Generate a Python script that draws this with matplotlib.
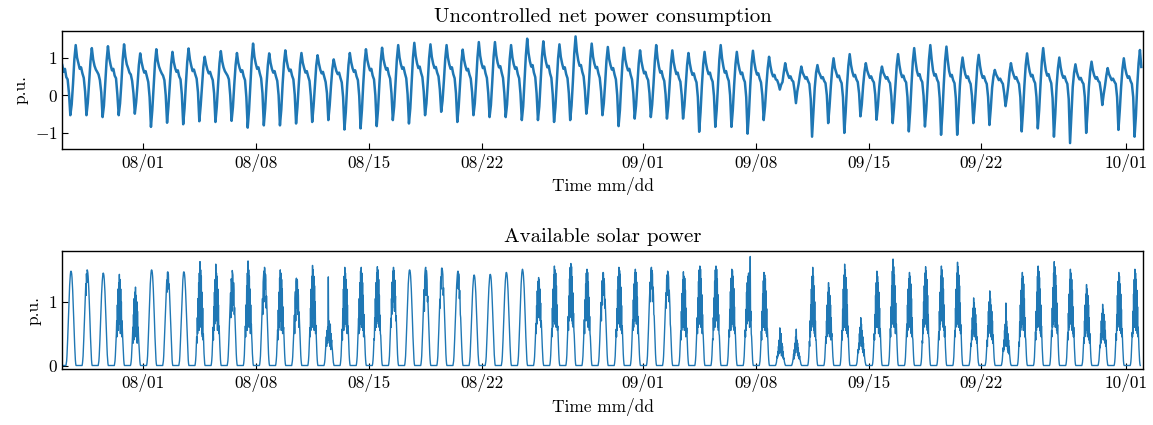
import numpy as np
import pandas as pd
import matplotlib
matplotlib.use("Agg")
import matplotlib.pyplot as plt
import matplotlib.dates as mdates

plt.rcParams["font.family"] = "serif"
plt.rcParams["font.serif"] = ["cmr10"]
plt.rcParams["mathtext.fontset"] = "cm"
plt.rcParams["axes.formatter.use_mathtext"] = True

start = pd.Timestamp("2019-07-27")
n_days = 67

# net consumption, one row per day, values at 00,02,...,22 h
net_rows = [
    [0.80, 0.62, 0.70, 0.48, 0.42, 0.05, -0.53, -0.25, 0.30, 0.95, 1.33, 1.00],
    [0.85, 0.70, 0.74, 0.58, 0.46, 0.10, -0.53, -0.20, 0.35, 0.90, 1.25, 0.95],
    [0.78, 0.68, 0.62, 0.55, 0.40, 0.08, -0.58, -0.28, 0.30, 0.92, 1.30, 0.98],
    [0.80, 0.66, 0.70, 0.52, 0.45, 0.02, -0.53, -0.22, 0.32, 0.96, 1.35, 1.02],
    [0.82, 0.72, 0.60, 0.55, 0.38, 0.05, -0.49, -0.18, 0.28, 0.80, 1.11, 0.88],
    [0.72, 0.60, 0.64, 0.50, 0.35, -0.05, -0.84, -0.40, 0.25, 0.85, 1.22, 0.92],
    [0.76, 0.66, 0.58, 0.52, 0.40, 0.00, -0.73, -0.30, 0.28, 0.82, 1.15, 0.88],
    [0.72, 0.62, 0.66, 0.50, 0.42, 0.02, -0.77, -0.35, 0.30, 0.88, 1.24, 0.95],
    [0.78, 0.64, 0.68, 0.55, 0.44, 0.08, -0.69, -0.28, 0.25, 0.75, 1.02, 0.82],
    [0.68, 0.58, 0.62, 0.50, 0.40, 0.05, -0.71, -0.30, 0.30, 0.85, 1.17, 0.90],
    [0.74, 0.64, 0.58, 0.52, 0.42, 0.00, -0.68, -0.32, 0.28, 0.80, 1.12, 0.86],
    [0.72, 0.62, 0.66, 0.50, 0.40, -0.05, -0.86, -0.40, 0.30, 0.95, 1.37, 1.02],
    [0.84, 0.70, 0.74, 0.58, 0.45, 0.05, -0.80, -0.35, 0.28, 0.80, 1.11, 0.86],
    [0.70, 0.60, 0.64, 0.50, 0.38, 0.00, -0.80, -0.38, 0.30, 0.85, 1.19, 0.92],
    [0.74, 0.64, 0.68, 0.52, 0.42, 0.02, -0.75, -0.32, 0.28, 0.82, 1.12, 0.86],
    [0.72, 0.60, 0.64, 0.50, 0.38, -0.02, -0.71, -0.30, 0.25, 0.78, 1.06, 0.84],
    [0.68, 0.58, 0.62, 0.48, 0.35, 0.05, -0.66, -0.28, 0.25, 0.70, 0.95, 0.78],
    [0.64, 0.56, 0.60, 0.46, 0.34, -0.05, -0.91, -0.45, 0.25, 0.80, 1.12, 0.88],
    [0.72, 0.62, 0.66, 0.50, 0.40, -0.02, -0.88, -0.40, 0.30, 0.88, 1.22, 0.94],
    [0.78, 0.66, 0.70, 0.52, 0.42, 0.00, -0.82, -0.38, 0.30, 0.90, 1.26, 0.96],
    [0.80, 0.68, 0.72, 0.55, 0.44, 0.05, -0.66, -0.30, 0.32, 0.95, 1.33, 1.00],
    [0.82, 0.70, 0.74, 0.58, 0.45, 0.02, -0.75, -0.35, 0.32, 1.00, 1.39, 1.05],
    [0.85, 0.72, 0.76, 0.60, 0.48, 0.10, -0.53, -0.22, 0.35, 0.98, 1.35, 1.02],
    [0.84, 0.72, 0.75, 0.60, 0.50, 0.15, -0.44, -0.15, 0.38, 0.96, 1.33, 1.00],
    [0.82, 0.70, 0.74, 0.56, 0.45, 0.05, -0.71, -0.32, 0.30, 0.88, 1.21, 0.94],
    [0.78, 0.66, 0.70, 0.55, 0.44, 0.08, -0.53, -0.22, 0.35, 1.00, 1.41, 1.05],
    [0.85, 0.72, 0.76, 0.58, 0.46, 0.06, -0.58, -0.26, 0.35, 1.02, 1.41, 1.06],
    [0.86, 0.74, 0.77, 0.60, 0.46, 0.05, -0.58, -0.25, 0.34, 0.96, 1.33, 1.00],
    [0.82, 0.70, 0.74, 0.56, 0.45, 0.04, -0.66, -0.30, 0.35, 1.05, 1.50, 1.12],
    [0.90, 0.76, 0.80, 0.60, 0.48, 0.05, -0.66, -0.30, 0.34, 1.02, 1.43, 1.08],
    [0.88, 0.74, 0.78, 0.58, 0.46, 0.02, -0.71, -0.32, 0.32, 0.98, 1.35, 1.02],
    [0.84, 0.70, 0.74, 0.56, 0.45, 0.05, -0.66, -0.28, 0.36, 1.10, 1.56, 1.15],
    [0.92, 0.78, 0.80, 0.62, 0.50, 0.12, -0.49, -0.20, 0.34, 0.98, 1.37, 1.02],
    [0.84, 0.72, 0.75, 0.58, 0.46, 0.10, -0.53, -0.22, 0.32, 0.92, 1.28, 0.96],
    [0.80, 0.68, 0.72, 0.55, 0.42, 0.00, -0.82, -0.40, 0.30, 0.90, 1.26, 0.95],
    [0.78, 0.66, 0.70, 0.54, 0.42, 0.05, -0.62, -0.28, 0.30, 0.85, 1.19, 0.90],
    [0.72, 0.58, 0.62, 0.48, 0.40, 0.05, -0.58, -0.25, 0.30, 0.92, 1.33, 0.98],
    [0.76, 0.60, 0.64, 0.48, 0.38, 0.02, -0.62, -0.28, 0.28, 0.85, 1.19, 0.88],
    [0.70, 0.56, 0.60, 0.45, 0.36, 0.00, -0.62, -0.28, 0.26, 0.80, 1.12, 0.85],
    [0.66, 0.54, 0.58, 0.44, 0.34, -0.05, -0.97, -0.45, 0.25, 0.82, 1.15, 0.86],
    [0.68, 0.56, 0.60, 0.45, 0.36, -0.02, -0.84, -0.40, 0.28, 0.95, 1.33, 0.98],
    [0.76, 0.60, 0.64, 0.48, 0.38, 0.00, -0.84, -0.40, 0.26, 0.82, 1.15, 0.86],
    [0.68, 0.56, 0.60, 0.44, 0.35, -0.05, -1.02, -0.50, 0.25, 0.85, 1.18, 0.88],
    [0.68, 0.55, 0.58, 0.44, 0.34, 0.00, -0.66, -0.30, 0.25, 0.72, 1.02, 0.78],
    [0.60, 0.50, 0.54, 0.42, 0.40, 0.30, 0.15, 0.28, 0.35, 0.62, 0.85, 0.66],
    [0.55, 0.46, 0.50, 0.40, 0.36, 0.12, -0.21, 0.10, 0.30, 0.55, 0.76, 0.60],
    [0.52, 0.44, 0.48, 0.38, 0.30, -0.10, -1.10, -0.45, 0.20, 0.60, 0.80, 0.62],
    [0.54, 0.45, 0.48, 0.38, 0.32, 0.00, -0.74, -0.30, 0.25, 0.70, 0.98, 0.72],
    [0.60, 0.48, 0.52, 0.40, 0.32, -0.05, -1.00, -0.45, 0.25, 0.78, 1.09, 0.80],
    [0.62, 0.50, 0.54, 0.42, 0.35, 0.05, -0.56, -0.25, 0.25, 0.62, 0.85, 0.66],
    [0.55, 0.46, 0.50, 0.40, 0.34, 0.02, -0.65, -0.28, 0.22, 0.56, 0.76, 0.60],
    [0.52, 0.44, 0.48, 0.38, 0.32, -0.02, -0.74, -0.32, 0.25, 0.78, 1.09, 0.80],
    [0.60, 0.48, 0.52, 0.40, 0.34, -0.05, -0.96, -0.42, 0.28, 0.90, 1.25, 0.90],
    [0.65, 0.52, 0.56, 0.42, 0.35, -0.02, -0.83, -0.38, 0.28, 0.95, 1.33, 0.95],
    [0.66, 0.52, 0.56, 0.42, 0.34, -0.08, -1.05, -0.48, 0.28, 0.92, 1.29, 0.92],
    [0.64, 0.50, 0.54, 0.40, 0.32, -0.08, -1.05, -0.48, 0.25, 0.72, 1.00, 0.74],
    [0.56, 0.46, 0.50, 0.38, 0.30, -0.02, -0.74, -0.32, 0.25, 0.78, 1.07, 0.78],
    [0.58, 0.46, 0.50, 0.38, 0.30, -0.05, -0.79, -0.35, 0.20, 0.50, 0.67, 0.55],
    [0.48, 0.40, 0.44, 0.36, 0.30, 0.05, -0.29, -0.05, 0.25, 0.62, 0.85, 0.66],
    [0.54, 0.44, 0.48, 0.38, 0.30, -0.05, -0.96, -0.42, 0.25, 0.80, 1.11, 0.82],
    [0.62, 0.50, 0.54, 0.40, 0.32, -0.05, -0.88, -0.40, 0.28, 0.90, 1.25, 0.90],
    [0.65, 0.52, 0.56, 0.42, 0.32, -0.08, -1.10, -0.50, 0.25, 0.72, 1.00, 0.74],
    [0.56, 0.46, 0.50, 0.38, 0.30, -0.10, -1.27, -0.55, 0.22, 0.60, 0.82, 0.62],
    [0.50, 0.42, 0.46, 0.36, 0.30, -0.05, -1.00, -0.45, 0.22, 0.65, 0.89, 0.66],
    [0.52, 0.44, 0.48, 0.38, 0.34, 0.10, -0.26, 0.02, 0.25, 0.52, 0.72, 0.56],
    [0.48, 0.40, 0.44, 0.36, 0.30, -0.05, -0.92, -0.40, 0.22, 0.70, 0.98, 0.72],
    [0.56, 0.46, 0.50, 0.38, 0.30, -0.05, -1.10, -0.55, 0.25, 0.85, 1.20, 0.75],
]

# available solar power, one row per day, half-hourly from 06:00 to 20:00 (zero at night)
solar_rows = [
    [0.03, 0.07, 0.15, 0.27, 0.40, 0.55, 0.71, 0.86, 1.01, 1.14, 1.26, 1.35, 1.42, 1.47, 1.48, 1.47, 1.44, 1.38, 1.29, 1.18, 1.05, 0.90, 0.75, 0.59, 0.44, 0.31, 0.18, 0.09, 0.03],
    [0.03, 0.08, 0.15, 0.27, 0.41, 0.56, 0.72, 0.87, 1.02, 1.16, 1.28, 1.10, 1.44, 1.30, 1.50, 1.49, 1.46, 1.40, 1.31, 1.20, 1.07, 0.92, 0.77, 0.60, 0.45, 0.32, 0.18, 0.09, 0.03],
    [0.03, 0.07, 0.15, 0.26, 0.39, 0.54, 0.70, 0.84, 0.99, 1.12, 1.23, 1.32, 1.39, 1.44, 1.45, 1.44, 1.41, 1.35, 1.26, 1.16, 1.03, 0.88, 0.74, 0.58, 0.44, 0.30, 0.17, 0.09, 0.03],
    [0.03, 0.07, 0.15, 0.26, 0.39, 0.50, 0.70, 0.45, 0.95, 0.60, 1.20, 0.55, 1.30, 0.75, 1.43, 0.65, 1.35, 0.50, 1.20, 0.60, 1.00, 0.45, 0.70, 0.55, 0.42, 0.30, 0.17, 0.09, 0.03],
    [0.02, 0.06, 0.12, 0.22, 0.33, 0.45, 0.60, 0.35, 0.80, 0.40, 1.05, 0.50, 1.15, 0.60, 1.23, 0.45, 1.10, 0.55, 1.00, 0.35, 0.85, 0.50, 0.60, 0.45, 0.35, 0.25, 0.15, 0.07, 0.02],
    [0.03, 0.08, 0.15, 0.27, 0.41, 0.56, 0.72, 0.87, 1.02, 1.16, 1.28, 1.37, 1.44, 1.49, 1.50, 1.49, 1.46, 1.40, 1.31, 1.20, 1.07, 0.92, 0.77, 0.60, 0.45, 0.32, 0.18, 0.09, 0.03],
    [0.03, 0.07, 0.15, 0.26, 0.40, 0.54, 0.71, 0.85, 1.00, 1.13, 1.25, 1.34, 1.15, 1.46, 1.47, 1.46, 1.43, 1.20, 1.28, 1.18, 1.04, 0.90, 0.75, 0.59, 0.44, 0.31, 0.18, 0.09, 0.03],
    [0.03, 0.07, 0.15, 0.26, 0.40, 0.54, 0.71, 0.85, 1.00, 1.13, 1.25, 1.34, 1.41, 1.46, 1.47, 1.46, 1.43, 1.37, 1.28, 1.18, 1.04, 0.90, 0.75, 0.59, 0.44, 0.31, 0.18, 0.09, 0.03],
    [0.03, 0.08, 0.16, 0.30, 0.45, 0.35, 0.75, 0.50, 1.05, 0.60, 1.30, 0.55, 1.45, 0.70, 1.63, 0.80, 1.50, 0.60, 1.40, 0.50, 1.15, 0.45, 0.90, 0.40, 0.50, 0.33, 0.19, 0.10, 0.03],
    [0.03, 0.08, 0.16, 0.29, 0.44, 0.60, 0.40, 0.92, 0.55, 1.15, 0.65, 1.35, 0.75, 1.59, 0.70, 1.45, 0.85, 1.40, 0.55, 1.20, 0.60, 0.95, 0.50, 0.62, 0.45, 0.32, 0.19, 0.09, 0.03],
    [0.03, 0.07, 0.15, 0.27, 0.40, 0.55, 0.71, 0.86, 1.00, 1.14, 0.75, 1.36, 1.30, 0.85, 1.49, 1.46, 1.42, 0.95, 1.30, 1.18, 0.80, 0.91, 0.76, 0.59, 0.44, 0.31, 0.18, 0.09, 0.03],
    [0.03, 0.08, 0.16, 0.30, 0.45, 0.62, 0.45, 0.95, 0.60, 1.25, 0.55, 1.45, 0.80, 1.64, 0.70, 1.50, 0.60, 1.40, 0.75, 1.20, 0.50, 0.95, 0.60, 0.65, 0.45, 0.34, 0.19, 0.10, 0.03],
    [0.03, 0.08, 0.15, 0.28, 0.42, 0.57, 0.74, 0.89, 1.05, 0.80, 1.31, 1.40, 1.48, 1.00, 1.54, 1.52, 1.20, 1.43, 1.34, 0.90, 1.09, 0.94, 0.78, 0.62, 0.46, 0.32, 0.18, 0.09, 0.03],
    [0.03, 0.08, 0.15, 0.27, 0.41, 0.56, 0.40, 0.87, 0.55, 1.15, 0.60, 1.37, 0.70, 1.50, 0.80, 1.45, 0.55, 1.35, 0.65, 1.20, 0.50, 0.92, 0.55, 0.60, 0.45, 0.32, 0.18, 0.09, 0.03],
    [0.03, 0.07, 0.14, 0.25, 0.37, 0.50, 0.66, 0.79, 0.50, 1.05, 1.16, 0.70, 1.32, 1.37, 0.90, 1.35, 1.33, 0.80, 1.19, 1.10, 0.60, 0.84, 0.70, 0.55, 0.41, 0.29, 0.16, 0.08, 0.03],
    [0.03, 0.08, 0.16, 0.28, 0.43, 0.59, 0.45, 0.90, 0.55, 1.20, 0.70, 1.40, 0.60, 1.57, 0.75, 1.50, 0.90, 1.40, 0.55, 1.25, 0.60, 1.00, 0.50, 0.63, 0.47, 0.33, 0.19, 0.09, 0.03],
    [0.02, 0.05, 0.10, 0.18, 0.25, 0.35, 0.45, 0.30, 0.55, 0.35, 0.60, 0.40, 1.39, 0.45, 0.70, 0.35, 0.55, 0.30, 0.65, 0.25, 0.50, 0.35, 0.40, 0.30, 0.25, 0.18, 0.10, 0.05, 0.02],
    [0.03, 0.08, 0.15, 0.28, 0.42, 0.57, 0.40, 0.89, 0.60, 1.20, 0.55, 1.40, 0.70, 1.54, 0.65, 1.45, 0.80, 1.35, 0.60, 1.20, 0.50, 0.95, 0.55, 0.62, 0.46, 0.32, 0.18, 0.09, 0.03],
    [0.03, 0.08, 0.15, 0.28, 0.42, 0.57, 0.74, 0.50, 1.05, 0.55, 1.30, 0.65, 1.48, 0.75, 1.54, 0.60, 1.45, 0.70, 1.30, 0.55, 1.10, 0.45, 0.80, 0.50, 0.46, 0.32, 0.18, 0.09, 0.03],
    [0.03, 0.08, 0.16, 0.28, 0.42, 0.40, 0.75, 0.55, 1.05, 0.65, 1.30, 0.60, 1.45, 0.85, 1.55, 0.70, 1.50, 0.65, 1.35, 0.60, 1.10, 0.55, 0.79, 0.50, 0.47, 0.33, 0.19, 0.09, 0.03],
    [0.03, 0.08, 0.15, 0.28, 0.42, 0.57, 0.74, 0.60, 1.05, 0.80, 1.31, 0.90, 1.48, 1.00, 1.54, 1.20, 1.49, 0.85, 1.34, 0.95, 1.09, 0.70, 0.78, 0.62, 0.46, 0.32, 0.18, 0.09, 0.03],
    [0.03, 0.08, 0.15, 0.27, 0.41, 0.56, 0.72, 0.87, 1.02, 1.16, 1.28, 1.37, 1.44, 1.49, 1.50, 1.49, 1.46, 1.40, 1.31, 1.20, 1.07, 0.92, 0.77, 0.60, 0.45, 0.32, 0.18, 0.09, 0.03],
    [0.03, 0.08, 0.15, 0.28, 0.42, 0.57, 0.74, 0.89, 1.05, 1.19, 0.85, 1.40, 1.48, 1.53, 1.54, 1.10, 1.49, 1.43, 1.34, 1.00, 1.09, 0.94, 0.78, 0.62, 0.46, 0.32, 0.18, 0.09, 0.03],
    [0.03, 0.08, 0.15, 0.28, 0.41, 0.57, 0.73, 0.89, 1.04, 0.90, 1.30, 1.39, 1.20, 1.52, 1.53, 1.52, 1.48, 1.42, 1.10, 1.22, 1.09, 0.94, 0.78, 0.61, 0.46, 0.32, 0.18, 0.09, 0.03],
    [0.03, 0.07, 0.15, 0.27, 0.40, 0.55, 0.71, 0.86, 1.01, 1.14, 1.26, 1.35, 1.42, 1.47, 1.48, 1.20, 1.44, 1.38, 1.05, 1.18, 1.05, 0.80, 0.75, 0.59, 0.44, 0.31, 0.18, 0.09, 0.03],
    [0.03, 0.07, 0.14, 0.26, 0.38, 0.53, 0.68, 0.82, 0.97, 1.09, 1.21, 1.29, 1.36, 1.41, 1.42, 1.41, 1.38, 1.32, 1.24, 1.14, 1.01, 0.87, 0.72, 0.57, 0.43, 0.30, 0.17, 0.09, 0.03],
    [0.03, 0.07, 0.14, 0.26, 0.39, 0.53, 0.69, 0.83, 0.97, 1.10, 1.22, 1.30, 1.37, 1.42, 1.43, 1.42, 1.39, 1.33, 1.24, 1.14, 1.02, 0.87, 0.73, 0.57, 0.43, 0.30, 0.17, 0.09, 0.03],
    [0.03, 0.07, 0.15, 0.26, 0.39, 0.54, 0.70, 0.85, 0.99, 1.12, 1.24, 1.33, 1.40, 1.45, 1.46, 1.45, 1.42, 1.36, 1.27, 1.17, 1.04, 0.89, 0.74, 0.58, 0.44, 0.31, 0.18, 0.09, 0.03],
    [0.03, 0.08, 0.15, 0.27, 0.41, 0.56, 0.72, 0.88, 1.03, 1.16, 1.28, 1.37, 1.45, 1.49, 1.51, 1.49, 1.46, 1.40, 1.31, 1.21, 1.07, 0.92, 0.77, 0.60, 0.45, 0.32, 0.18, 0.09, 0.03],
    [0.03, 0.07, 0.14, 0.25, 0.37, 0.51, 0.66, 0.50, 0.94, 0.65, 1.17, 0.80, 1.32, 0.90, 1.38, 0.75, 1.34, 0.95, 1.20, 0.70, 0.98, 0.60, 0.70, 0.55, 0.41, 0.29, 0.17, 0.08, 0.03],
    [0.03, 0.08, 0.16, 0.28, 0.42, 0.58, 0.45, 0.90, 0.60, 1.20, 0.70, 1.42, 0.80, 1.56, 0.65, 1.50, 0.85, 1.45, 0.60, 1.25, 0.70, 0.95, 0.55, 0.62, 0.47, 0.33, 0.19, 0.09, 0.03],
    [0.03, 0.08, 0.16, 0.29, 0.43, 0.59, 0.77, 0.55, 1.09, 0.70, 1.36, 0.75, 1.54, 0.90, 1.60, 0.80, 1.55, 0.70, 1.39, 0.65, 1.14, 0.60, 0.82, 0.55, 0.48, 0.34, 0.19, 0.10, 0.03],
    [0.03, 0.08, 0.15, 0.27, 0.41, 0.56, 0.72, 0.50, 1.03, 0.75, 1.28, 0.70, 1.45, 0.85, 1.51, 0.95, 1.46, 0.60, 1.31, 0.80, 1.07, 0.55, 0.77, 0.50, 0.45, 0.32, 0.18, 0.09, 0.03],
    [0.03, 0.07, 0.15, 0.26, 0.39, 0.54, 0.70, 0.85, 0.99, 0.70, 1.24, 1.33, 0.95, 1.45, 1.46, 1.45, 1.10, 1.36, 1.27, 0.90, 1.04, 0.89, 0.74, 0.58, 0.44, 0.31, 0.18, 0.09, 0.03],
    [0.03, 0.08, 0.15, 0.28, 0.42, 0.57, 0.45, 0.89, 0.55, 1.19, 0.65, 1.40, 0.75, 1.54, 0.70, 1.49, 0.60, 1.43, 0.75, 1.23, 0.55, 0.94, 0.50, 0.62, 0.46, 0.32, 0.18, 0.09, 0.03],
    [0.03, 0.08, 0.15, 0.27, 0.41, 0.56, 0.72, 0.55, 1.03, 0.60, 1.28, 0.80, 1.45, 0.70, 1.51, 0.85, 1.46, 0.65, 1.31, 0.75, 1.07, 0.50, 0.77, 0.55, 0.45, 0.32, 0.18, 0.09, 0.03],
    [0.03, 0.08, 0.15, 0.28, 0.42, 0.57, 0.74, 0.89, 1.05, 1.19, 1.31, 1.00, 1.48, 1.53, 1.54, 1.20, 1.49, 1.43, 1.00, 1.23, 1.09, 0.80, 0.78, 0.62, 0.46, 0.32, 0.18, 0.09, 0.03],
    [0.03, 0.07, 0.15, 0.27, 0.40, 0.55, 0.71, 0.86, 1.01, 1.14, 0.90, 1.35, 1.42, 1.10, 1.48, 1.47, 1.44, 1.38, 1.00, 1.18, 1.05, 0.90, 0.65, 0.59, 0.44, 0.31, 0.18, 0.09, 0.03],
    [0.03, 0.07, 0.15, 0.26, 0.40, 0.54, 0.40, 0.85, 0.55, 1.13, 0.70, 1.34, 0.60, 1.47, 0.80, 1.40, 0.55, 1.37, 0.70, 1.18, 0.45, 0.90, 0.50, 0.59, 0.44, 0.31, 0.18, 0.09, 0.03],
    [0.03, 0.08, 0.16, 0.28, 0.42, 0.58, 0.75, 0.50, 1.06, 0.60, 1.32, 0.75, 1.50, 0.65, 1.56, 0.85, 1.51, 0.60, 1.36, 0.70, 1.11, 0.50, 0.80, 0.55, 0.47, 0.33, 0.19, 0.09, 0.03],
    [0.03, 0.08, 0.16, 0.28, 0.42, 0.40, 0.75, 0.55, 1.06, 0.65, 1.32, 0.60, 1.50, 0.80, 1.56, 0.70, 1.51, 0.85, 1.36, 0.60, 1.11, 0.55, 0.80, 0.50, 0.47, 0.33, 0.19, 0.09, 0.03],
    [0.03, 0.08, 0.15, 0.27, 0.41, 0.56, 0.45, 0.88, 0.60, 1.16, 0.55, 1.37, 0.75, 1.51, 0.65, 1.49, 0.80, 1.40, 0.60, 1.21, 0.55, 0.92, 0.50, 0.60, 0.45, 0.32, 0.18, 0.09, 0.03],
    [0.03, 0.08, 0.15, 0.27, 0.41, 0.56, 0.45, 0.88, 0.55, 1.15, 0.65, 1.30, 0.75, 1.40, 0.70, 1.45, 0.80, 1.40, 0.60, 1.25, 1.71, 0.70, 0.85, 0.50, 0.45, 0.32, 0.18, 0.09, 0.03],
    [0.03, 0.07, 0.15, 0.26, 0.39, 0.54, 0.40, 0.85, 0.55, 1.12, 0.65, 1.33, 0.60, 1.46, 0.75, 1.42, 0.55, 1.36, 0.65, 1.17, 0.50, 0.89, 0.45, 0.58, 0.44, 0.31, 0.18, 0.09, 0.03],
    [0.01, 0.03, 0.05, 0.10, 0.15, 0.12, 0.22, 0.15, 0.30, 0.18, 0.40, 0.22, 0.59, 0.25, 0.45, 0.20, 0.50, 0.15, 0.35, 0.20, 0.30, 0.12, 0.22, 0.10, 0.12, 0.08, 0.05, 0.03, 0.01],
    [0.01, 0.03, 0.05, 0.08, 0.12, 0.18, 0.10, 0.25, 0.15, 0.35, 0.20, 0.45, 0.25, 0.57, 0.30, 0.40, 0.20, 0.35, 0.15, 0.28, 0.12, 0.20, 0.10, 0.15, 0.10, 0.07, 0.04, 0.02, 0.01],
    [0.02, 0.06, 0.13, 0.25, 0.38, 0.30, 0.70, 0.45, 0.95, 0.55, 1.20, 0.60, 1.40, 0.70, 1.54, 0.65, 1.40, 0.55, 1.25, 0.50, 1.00, 0.45, 0.70, 0.40, 0.40, 0.27, 0.15, 0.07, 0.02],
    [0.02, 0.06, 0.12, 0.22, 0.33, 0.45, 0.35, 0.70, 0.45, 0.95, 0.55, 1.15, 0.50, 1.30, 0.65, 1.22, 0.45, 1.10, 0.55, 0.95, 0.40, 0.75, 0.45, 0.50, 0.36, 0.25, 0.14, 0.07, 0.02],
    [0.02, 0.07, 0.14, 0.26, 0.40, 0.55, 0.40, 0.88, 0.55, 1.20, 0.65, 1.42, 0.60, 1.59, 0.80, 1.50, 0.55, 1.38, 0.65, 1.20, 0.50, 0.95, 0.45, 0.62, 0.45, 0.30, 0.17, 0.08, 0.02],
    [0.01, 0.03, 0.06, 0.12, 0.18, 0.25, 0.20, 0.35, 0.25, 0.50, 0.30, 0.60, 0.35, 0.75, 0.40, 0.65, 0.30, 0.55, 0.25, 0.45, 0.20, 0.35, 0.15, 0.25, 0.15, 0.10, 0.06, 0.03, 0.01],
    [0.02, 0.06, 0.13, 0.24, 0.37, 0.50, 0.40, 0.80, 0.50, 1.10, 0.60, 1.30, 0.70, 1.48, 0.60, 1.40, 0.75, 1.30, 0.50, 1.15, 0.55, 0.90, 0.45, 0.58, 0.42, 0.28, 0.16, 0.07, 0.02],
    [0.02, 0.07, 0.14, 0.27, 0.42, 0.58, 0.45, 0.92, 0.60, 1.25, 0.70, 1.48, 0.65, 1.67, 0.85, 1.55, 0.60, 1.42, 0.70, 1.25, 0.50, 0.98, 0.50, 0.65, 0.47, 0.32, 0.18, 0.08, 0.02],
    [0.02, 0.06, 0.13, 0.24, 0.37, 0.50, 0.65, 0.45, 0.95, 0.55, 1.20, 0.65, 1.36, 0.70, 1.46, 0.60, 1.40, 0.75, 1.28, 0.50, 1.05, 0.45, 0.75, 0.45, 0.41, 0.28, 0.16, 0.07, 0.02],
    [0.02, 0.06, 0.13, 0.25, 0.39, 0.35, 0.72, 0.50, 1.00, 0.60, 1.25, 0.70, 1.45, 0.65, 1.55, 0.80, 1.48, 0.60, 1.35, 0.55, 1.10, 0.50, 0.80, 0.45, 0.44, 0.29, 0.17, 0.08, 0.02],
    [0.02, 0.06, 0.13, 0.25, 0.39, 0.53, 0.40, 0.85, 0.55, 1.15, 0.65, 1.40, 0.75, 1.56, 0.70, 1.50, 0.80, 1.38, 0.60, 1.20, 0.55, 0.95, 0.45, 0.62, 0.44, 0.29, 0.17, 0.08, 0.02],
    [0.02, 0.07, 0.14, 0.26, 0.40, 0.55, 0.45, 0.90, 0.60, 1.20, 0.70, 1.45, 0.65, 1.62, 0.80, 1.55, 0.60, 1.42, 0.70, 1.25, 0.55, 0.98, 0.50, 0.64, 0.46, 0.31, 0.17, 0.08, 0.02],
    [0.02, 0.05, 0.09, 0.17, 0.26, 0.35, 0.30, 0.55, 0.40, 0.75, 0.45, 0.90, 0.50, 1.06, 0.55, 0.98, 0.45, 0.90, 0.50, 0.80, 0.40, 0.65, 0.35, 0.45, 0.30, 0.20, 0.11, 0.05, 0.02],
    [0.02, 0.05, 0.10, 0.19, 0.29, 0.40, 0.30, 0.62, 0.45, 0.85, 0.50, 1.00, 0.55, 1.17, 0.60, 1.05, 0.45, 0.95, 0.55, 0.85, 0.40, 0.70, 0.35, 0.48, 0.33, 0.22, 0.12, 0.06, 0.02],
    [0.01, 0.04, 0.07, 0.14, 0.20, 0.28, 0.22, 0.40, 0.25, 0.55, 0.30, 0.65, 0.35, 0.98, 0.40, 0.70, 0.30, 0.60, 0.25, 0.50, 0.20, 0.40, 0.18, 0.30, 0.18, 0.12, 0.07, 0.03, 0.01],
    [0.02, 0.06, 0.13, 0.24, 0.37, 0.30, 0.68, 0.45, 0.95, 0.55, 1.18, 0.60, 1.36, 0.75, 1.46, 0.65, 1.40, 0.55, 1.28, 0.60, 1.05, 0.45, 0.75, 0.45, 0.41, 0.28, 0.16, 0.07, 0.02],
    [0.02, 0.06, 0.13, 0.25, 0.39, 0.53, 0.40, 0.85, 0.55, 1.15, 0.65, 1.40, 0.60, 1.56, 0.85, 1.48, 0.65, 1.38, 0.55, 1.20, 0.50, 0.95, 0.45, 0.62, 0.44, 0.29, 0.17, 0.08, 0.02],
    [0.02, 0.07, 0.14, 0.26, 0.40, 0.55, 0.45, 0.90, 0.60, 1.22, 0.65, 1.45, 0.70, 1.63, 0.75, 1.55, 0.60, 1.42, 0.65, 1.25, 0.55, 0.98, 0.50, 0.64, 0.46, 0.31, 0.17, 0.08, 0.02],
    [0.02, 0.06, 0.13, 0.24, 0.38, 0.52, 0.40, 0.82, 0.55, 1.12, 0.60, 1.35, 0.70, 1.51, 0.65, 1.45, 0.75, 1.35, 0.55, 1.18, 0.50, 0.92, 0.45, 0.60, 0.43, 0.28, 0.16, 0.07, 0.02],
    [0.02, 0.05, 0.11, 0.21, 0.32, 0.44, 0.35, 0.70, 0.45, 0.95, 0.50, 1.12, 0.60, 1.27, 0.55, 1.20, 0.45, 1.10, 0.50, 0.95, 0.40, 0.75, 0.35, 0.50, 0.35, 0.24, 0.13, 0.06, 0.02],
    [0.01, 0.04, 0.08, 0.16, 0.24, 0.32, 0.28, 0.50, 0.35, 0.70, 0.40, 0.82, 0.45, 0.96, 0.50, 0.88, 0.40, 0.80, 0.45, 0.70, 0.35, 0.55, 0.30, 0.40, 0.27, 0.18, 0.10, 0.05, 0.01],
    [0.02, 0.06, 0.13, 0.24, 0.37, 0.50, 0.40, 0.80, 0.55, 1.10, 0.60, 1.32, 0.65, 1.46, 0.70, 1.40, 0.55, 1.28, 0.60, 1.12, 0.50, 0.88, 0.45, 0.58, 0.41, 0.28, 0.16, 0.07, 0.02],
    [0.02, 0.06, 0.13, 0.24, 0.38, 0.52, 0.45, 0.85, 0.50, 1.12, 0.65, 1.35, 0.60, 1.51, 0.75, 1.45, 0.55, 1.35, 0.65, 1.18, 0.50, 0.92, 0.45, 0.60, 0.43, 0.28, 0.16, 0.07, 0.02],
]

net = np.concatenate(net_rows)
net_t = pd.date_range(start, periods=len(net), freq="2h")

# daytime samples from the rows, flat zero through each night
solar_t, solar = [], []
for d, row in enumerate(solar_rows):
    day = start + pd.Timedelta(days=d)
    solar_t += [day, day + pd.Timedelta(hours=5.5)]
    solar += [0.0, 0.0]
    for k, v in enumerate(row):
        solar_t.append(day + pd.Timedelta(hours=6 + 0.5 * k))
        solar.append(v)
    solar_t.append(day + pd.Timedelta(hours=6 + 0.5 * len(row)))
    solar.append(0.0)

t1 = start + pd.Timedelta(days=n_days)

fig = plt.figure(figsize=(11.53, 4.25), dpi=100)
ax1 = fig.add_axes([0.054, 0.650, 0.937, 0.2776])
ax2 = fig.add_axes([0.054, 0.131, 0.937, 0.279])

ax1.plot(net_t, net, color="#1f77b4", lw=1.8)
ax1.set_ylim(-1.42, 1.71)
ax1.set_yticks([-1, 0, 1])
ax1.set_title("Uncontrolled net power consumption", fontsize=15)

ax2.plot(solar_t, solar, color="#1f77b4", lw=1.0)
ax2.set_ylim(-0.06, 1.80)
ax2.set_yticks([0, 1])
ax2.set_title("Available solar power", fontsize=15)

for ax in (ax1, ax2):
    ax.set_xlim(start, t1)
    ax.xaxis.set_major_locator(mdates.DayLocator(bymonthday=[1, 8, 15, 22]))
    ax.xaxis.set_major_formatter(mdates.DateFormatter("%m/%d"))
    ax.tick_params(direction="in", length=4.5, width=0.8, labelsize=12.5,
                   top=False, right=False)
    ax.set_xlabel("Time mm/dd", fontsize=12.5)
    ax.set_ylabel("p.u.", fontsize=12.5)
    for s in ax.spines.values():
        s.set_linewidth(1.0)

fig.savefig("out.png", dpi=100)
